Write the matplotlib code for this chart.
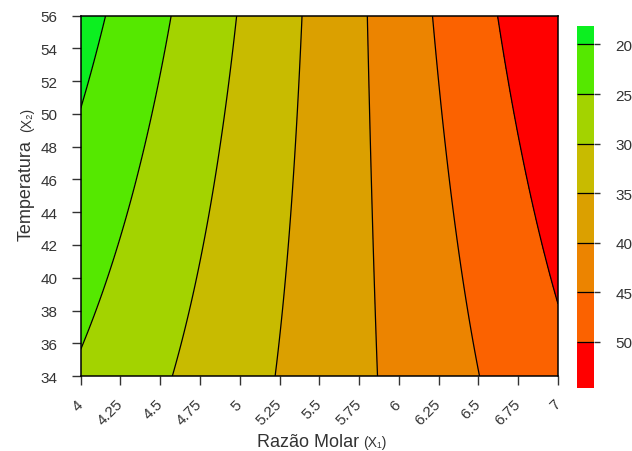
import numpy as np
import matplotlib
matplotlib.use("Agg")
import matplotlib.pyplot as plt

plt.rcParams['font.family'] = ['Liberation Sans', 'DejaVu Sans']

# points (level, razao molar, temperatura)
pt_level = [20, 20, 20,
            25, 25, 25, 25, 25,
            30, 30, 30, 30,
            35, 35, 35, 35,
            40, 40, 40, 40,
            45, 45, 45, 45,
            50, 50, 50, 50]
pt_x = [4.16, 4.10, 4.00,
        4.572, 4.337, 4.362, 4.247, 4.00,
        4.981, 4.838, 4.73, 4.582,
        5.386, 5.333, 5.30, 5.222,
        5.799, 5.824, 5.84, 5.862,
        6.211, 6.31, 6.396, 6.50,
        6.62, 6.805, 6.91, 7.00]
pt_y = [56, 53.97, 50.74,
        56, 46.04, 46.65, 40.55, 36.55,
        56, 46.04, 39.94, 34.0,
        56, 46.04, 39.94, 34.0,
        56, 46.04, 40.55, 34.0,
        56, 46.3, 40.55, 34.0,
        56, 46.3, 40.55, 39.23]
# corner values (from the colour key range)
corner_x = [4, 7]
corner_y = [56, 56]
corner_z = [18.0, 54.6]

contour_levels = [20, 25, 30, 35, 40, 45, 50]
band_colors = ['#0cef20', '#55e800', '#a3d300', '#c8bb00',
               '#dba000', '#ec8400', '#fb6200', '#ff0000']
xtick_vals = [4, 4.25, 4.5, 4.75, 5, 5.25, 5.5, 5.75, 6, 6.25, 6.5, 6.75, 7]
xtick_labels = ['4', '4.25', '4.5', '4.75', '5', '5.25', '5.5', '5.75',
                '6', '6.25', '6.5', '6.75', '7']
ytick_vals = list(range(34, 57, 2))


def terms(x, y):
    return np.stack([np.ones_like(x), x, y, x**2, x*y, y**2, x*y**2], axis=-1)


# response surface fitted through the read points
px = np.array(pt_x + corner_x, dtype=float)
py = np.array(pt_y + corner_y, dtype=float)
pz = np.array(pt_level + corner_z, dtype=float)
coef, *_ = np.linalg.lstsq(terms(px, py), pz, rcond=None)

xg = np.linspace(4, 7, 301)
yg = np.linspace(34, 56, 221)
X, Y = np.meshgrid(xg, yg)
Z = terms(X, Y) @ coef

levels = [Z.min()] + contour_levels + [Z.max()]

fig = plt.figure(figsize=(6.32, 4.52), dpi=100)
ax = fig.add_axes([0.1277, 0.1659, 0.7552, 0.7971])
cax = fig.add_axes([0.9125, 0.1394, 0.0274, 0.8016])

cf = ax.contourf(X, Y, Z, levels=levels, colors=band_colors)
cs = ax.contour(X, Y, Z, levels=contour_levels, colors='black', linewidths=0.9)

ax.set_xlim(4, 7)
ax.set_ylim(34, 56)
ax.set_xticks(xtick_vals)
ax.set_xticklabels(xtick_labels, rotation=45, ha='right', va='center',
                   rotation_mode='anchor')
ax.set_yticks(ytick_vals)
ax.tick_params(axis='both', length=6.5, width=1, labelsize=11, pad=10,
               colors='#333333', labelcolor='#333333')
ax.tick_params(axis='x', pad=12)
for s in ax.spines.values():
    s.set_linewidth(1.1)
    s.set_color('black')

cb = fig.colorbar(cf, cax=cax, ticks=contour_levels, spacing='proportional')
cb.outline.set_visible(False)
cb.add_lines(cs)
cax.invert_yaxis()
cax.tick_params(length=4.5, width=1, labelsize=11, pad=11,
                colors='#333333', labelcolor='#333333')

# axis titles with smaller subscripted part
fig.text(359 / 632, 1 - 447 / 452, 'Razão Molar', fontsize=13, ha='right',
         va='baseline', color='#333333')
fig.text(363 / 632, 1 - 447 / 452, '(X₁)', fontsize=10, ha='left',
         va='baseline', color='#333333')
fig.text(31 / 632, 1 - 140 / 452, 'Temperatura', fontsize=13, rotation=90,
         ha='right', va='baseline', rotation_mode='anchor', color='#333333')
fig.text(31 / 632, 1 - 132 / 452, '(X₂)', fontsize=10, rotation=90,
         ha='left', va='baseline', rotation_mode='anchor', color='#333333')

fig.savefig('out.png', dpi=100)
